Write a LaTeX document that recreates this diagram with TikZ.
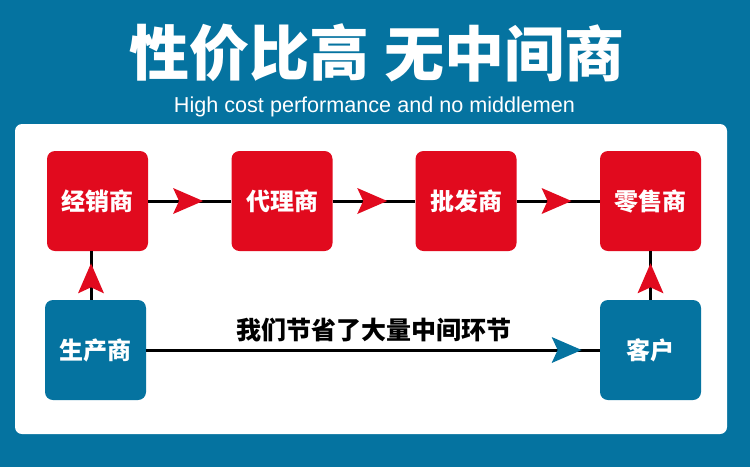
\documentclass[tikz,border=0pt]{standalone}
\usepackage{fontspec}
\newfontfamily\cjk{Noto Sans CJK SC}
\newfontfamily\latin{Liberation Sans}
\usetikzlibrary{arrows.meta,decorations.markings}
\definecolor{bgblue}{RGB}{5,115,160}
\definecolor{boxred}{RGB}{225,10,30}
\begin{document}
\begin{tikzpicture}[x=1pt,y=-1pt,
  box/.style={minimum width=101pt, minimum height=100pt, rounded corners=8pt, inner sep=0pt,
    text=white, font=\cjk\bfseries\fontsize{24}{24}\selectfont},
  redbox/.style={box, fill=boxred},
  bluebox/.style={box, fill=bgblue},
  flow/.style={line width=3pt, draw=black},
  midarrow/.style 2 args={postaction={decorate}, decoration={markings,
    mark=at position #1 with {\arrow{Stealth[length=30pt,width=26pt,inset=6pt,line width=0pt,#2]}}}}
]
\fill[bgblue] (0,0) rectangle (750,467);
\useasboundingbox (0,0) rectangle (750,467);
\fill[white, rounded corners=7pt] (15,124) rectangle (727,434);

\node[text=white, font=\cjk\bfseries\fontsize{60}{60}\selectfont] (t1) at (249.5,53) {性价比高};
\node[text=white, font=\cjk\bfseries\fontsize{60}{60}\selectfont] (t2) at (504,53) {无中间商};
\node[text=white, font=\latin\fontsize{21.6}{21.6}\selectfont, anchor=base, inner sep=0pt] (sub) at (374.5,112) {High cost performance and no middlemen};

\node[redbox] (jx) at (97.5,201) {经销商};
\node[redbox] (dl) at (282,201) {代理商};
\node[redbox] (pf) at (466,201) {批发商};
\node[redbox] (ls) at (650.5,201) {零售商};
\node[bluebox] (sc) at (95.5,350) {生产商};
\node[bluebox] (kh) at (650.5,350) {客户};

\node[font=\cjk\bfseries\fontsize{25}{25}\selectfont, text=black] (save) at (374,330) {我们节省了大量中间环节};

\coordinate (vx) at (91,0);
\draw[flow, midarrow={0.66}{boxred}] (jx) -- (dl);
\draw[flow, midarrow={0.66}{boxred}] (dl) -- (pf);
\draw[flow, midarrow={0.66}{boxred}] (pf) -- (ls);
\draw[flow, midarrow={0.75}{boxred}] (sc.north -| vx) -- (jx.south -| vx);
\draw[flow, midarrow={0.75}{boxred}] (kh) -- (ls);
\draw[flow, midarrow={0.96}{bgblue}] (sc) -- (kh);
\end{tikzpicture}
\end{document}
